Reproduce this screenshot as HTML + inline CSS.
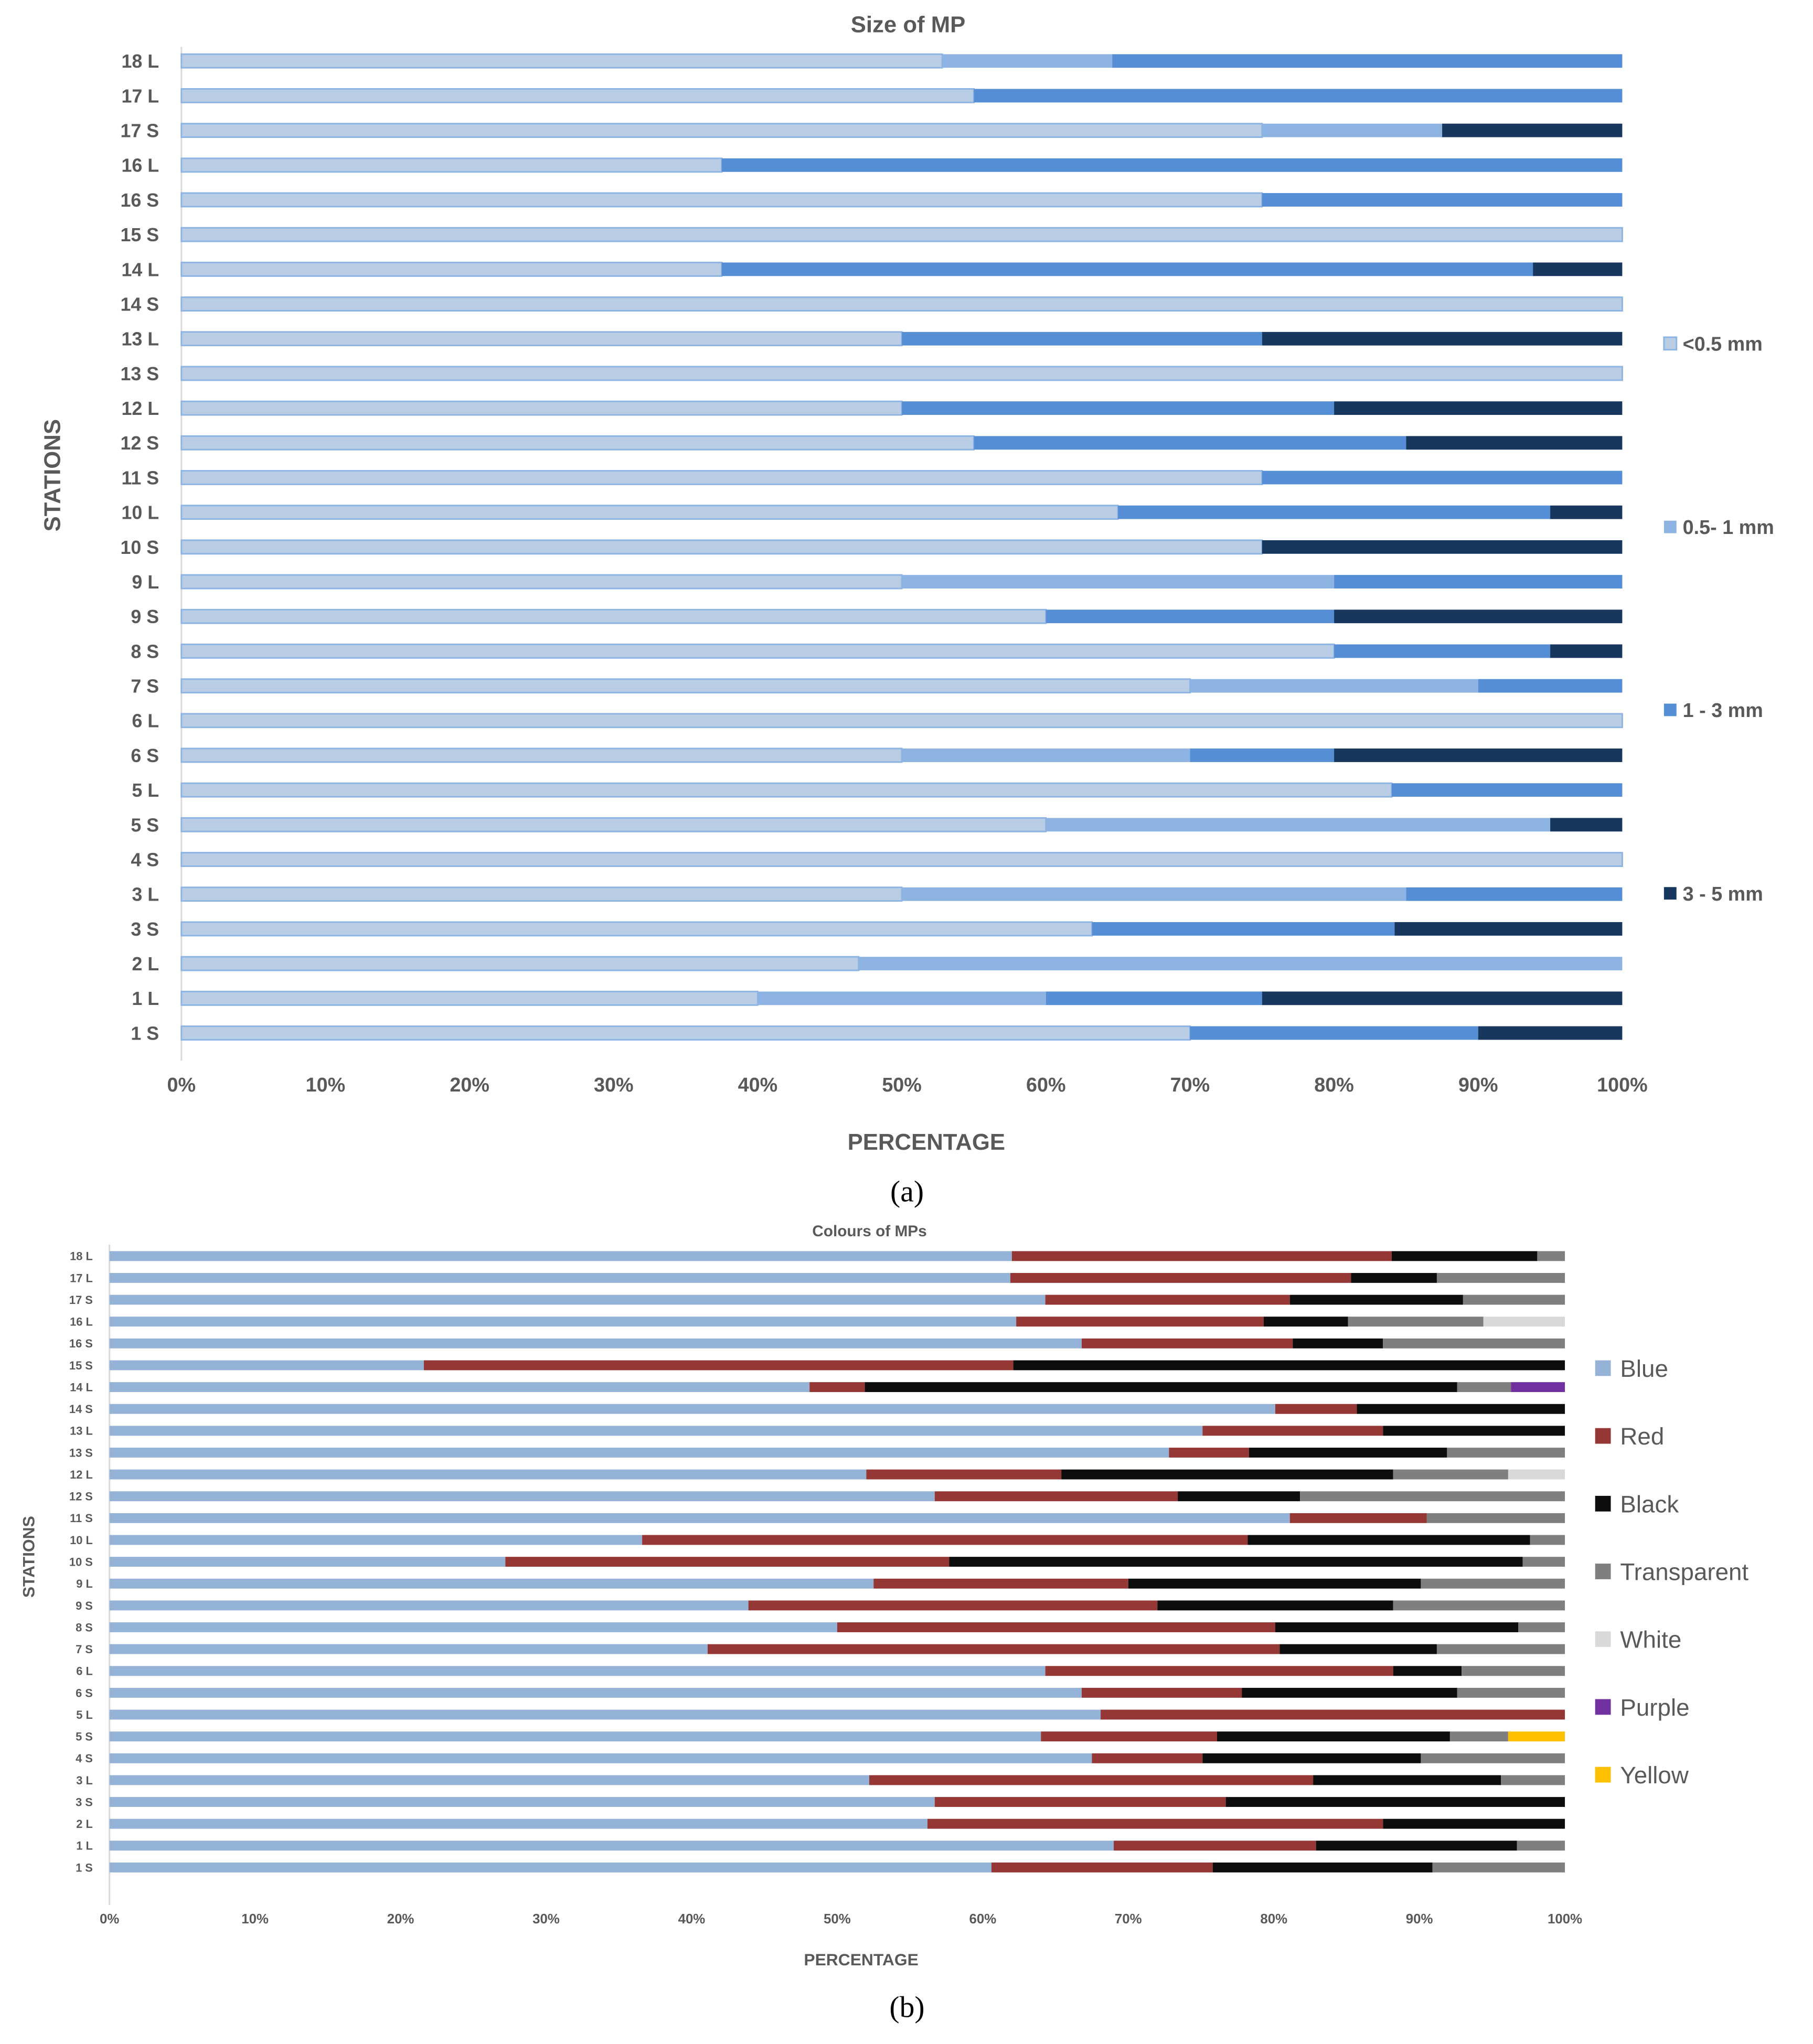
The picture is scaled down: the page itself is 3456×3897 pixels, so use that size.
<!DOCTYPE html>
<html><head><meta charset="utf-8"><style>
html,body{margin:0;padding:0;background:#fff}
svg{display:block;font-family:"Liberation Sans Narrow","Liberation Sans",sans-serif}
</style></head><body>
<svg width="3456" height="3897" viewBox="0 0 3456 3897" xmlns="http://www.w3.org/2000/svg"><g id="fig" transform="scale(0.9937)"></g></svg>
<script>
// ---------- Chart (a) data: Size of MP (top to bottom) ----------
const sizeStations = ["18 L","17 L","17 S","16 L","16 S","15 S","14 L","14 S","13 L","13 S","12 L","12 S","11 S","10 L","10 S","9 L","9 S","8 S","7 S","6 L","6 S","5 L","5 S","4 S","3 L","3 S","2 L","1 L","1 S"];
const sizeLt05 = [52.8,55,75,37.5,75,100,37.5,100,50,100,50,55,75,65,75,50,60,80,70,100,50,84,60,100,50,63.2,47,40,70];
const size05to1 = [11.8,0,12.5,0,0,0,0,0,0,0,0,0,0,0,0,30,0,0,20,0,20,0,35,0,35,0,53,20,0];
const size1to3 = [35.4,45,0,62.5,25,0,56.3,0,25,0,30,30,25,30,0,20,20,15,10,0,10,16,0,0,15,21,0,15,20];
const size3to5 = [0,0,12.5,0,0,0,6.2,0,25,0,20,15,0,5,25,0,20,5,0,0,20,0,5,0,0,15.8,0,25,10];
const sizeLegend = ["<0.5 mm","0.5- 1 mm","1 - 3 mm","3 - 5 mm"];
const xTicks = ["0%","10%","20%","30%","40%","50%","60%","70%","80%","90%","100%"];

// ---------- Chart (b) data: Colours of MPs ----------
const colStations = sizeStations.slice();
const colBlue = [62.0,61.9,64.3,62.3,66.8,21.6,48.1,80.1,75.1,72.8,52.0,56.7,81.1,36.6,27.2,52.5,43.9,50.0,41.1,64.3,66.8,68.1,64.0,67.5,52.2,56.7,56.2,69.0,60.6];
const colRed = [26.1,23.4,16.8,17.0,14.5,40.5,3.8,5.6,12.4,5.5,13.4,16.7,9.4,41.6,30.5,17.5,28.1,30.1,39.3,23.9,11.0,31.9,12.1,7.6,30.5,20.0,31.3,13.9,15.2];
const colBlack = [10.0,5.9,11.9,5.8,6.2,37.9,40.7,14.3,12.5,13.6,22.8,8.4,0,19.4,39.4,20.1,16.2,16.7,10.8,4.7,14.8,0,16.0,15.0,12.9,23.3,12.5,13.8,15.1];
const colTransparent = [1.9,8.8,7.0,9.3,12.5,0,3.7,0,0,8.1,7.9,18.2,9.5,2.4,2.9,9.9,11.8,3.2,8.8,7.1,7.4,0,4.0,9.9,4.4,0,0,3.3,9.1];
const colWhite = [0,0,0,5.6,0,0,0,0,0,0,3.9,0,0,0,0,0,0,0,0,0,0,0,0,0,0,0,0,0,0];
const colPurple = [0,0,0,0,0,0,3.7,0,0,0,0,0,0,0,0,0,0,0,0,0,0,0,0,0,0,0,0,0,0];
const colYellow = [0,0,0,0,0,0,0,0,0,0,0,0,0,0,0,0,0,0,0,0,0,0,3.9,0,0,0,0,0,0];
const colLegend = ["Blue","Red","Black","Transparent","White","Purple","Yellow"];

const NS="http://www.w3.org/2000/svg";
const svg=document.getElementById('fig');
function mk(tag,attrs,parent,txt){const e=document.createElementNS(NS,tag);for(const k in attrs)e.setAttribute(k,attrs[k]);if(txt!==undefined)e.textContent=txt;(parent||svg).appendChild(e);return e;}

function drawChart(cfg){
  const g=mk('g',{});
  
  
  const xs=v=>cfg.x0+(cfg.x1-cfg.x0)*v/100;
  const ys=i=>cfg.yTop+i*(cfg.yBot-cfg.yTop)/(cfg.cats.length-1);
  const t=mk('text',{x:cfg.titleX,y:cfg.titleY,'text-anchor':'middle','font-size':cfg.titleSize,'font-weight':'bold',fill:'#595959'},g,cfg.title);
  
  
  const ax=mk('line',{x1:cfg.x0,x2:cfg.x0,y1:cfg.axTop,y2:cfg.axBot,stroke:'#d9d9d9','stroke-width':3},g);
  
  
  cfg.cats.forEach((c,i)=>{
    const y=ys(i);
    const lb=mk('text',{x:cfg.labelX,y:y+cfg.labelSize*0.36,'text-anchor':'end','font-size':cfg.labelSize,'font-weight':'bold',fill:'#595959'},g,c);
    
    
    let acc=0;
    cfg.series.forEach((s,k)=>{
      const v=s[i];
      if(v>0){
        const r=mk('rect',{x:xs(acc),y:y-cfg.barH/2,width:xs(acc+v)-xs(acc),height:cfg.barH,fill:cfg.colors[k]},g);
        if(cfg.strokes&&cfg.strokes[k]){r.setAttribute('stroke',cfg.strokes[k]);r.setAttribute('stroke-width',3);}
        
        
      }
      acc+=v;
    });
  });
  xTicks.forEach((tk,j)=>{
    const tt=mk('text',{x:xs(j*10),y:cfg.tickY,'text-anchor':'middle','font-size':cfg.tickSize,'font-weight':'bold',fill:'#595959'},g,tk);
    
    
  });
  const xt=mk('text',{x:cfg.xTitleX,y:cfg.xTitleY,'text-anchor':'middle','font-size':cfg.axTitleSize,'font-weight':'bold',fill:'#595959'},g,'PERCENTAGE');
  
  
  const yt=mk('text',{x:0,y:0,'text-anchor':'middle','font-size':cfg.axTitleSize,'font-weight':'bold',fill:'#595959',transform:`translate(${cfg.yTitleX},${cfg.yTitleY}) rotate(-90)`},g,'STATIONS');
  
  
  cfg.legend.forEach((lg,k)=>{
    const ly=cfg.legY[k];
    const sq=mk('rect',{x:cfg.legX,y:ly-cfg.legSq/2,width:cfg.legSq,height:cfg.legSq,fill:cfg.colors[k]},g);
    if(cfg.strokes&&cfg.strokes[k]){sq.setAttribute('stroke',cfg.strokes[k]);sq.setAttribute('stroke-width',3);}
    
    
    const lt=mk('text',{x:cfg.legTX,y:ly+cfg.legSize*0.36,'font-size':cfg.legSize,'font-weight':cfg.legWeight,fill:'#595959'},g,lg);
    
    
  });
  const cap=mk('text',{x:cfg.capX,y:cfg.capY,'text-anchor':'middle','font-size':58,fill:'#000','font-family':'"Liberation Serif",serif'},g,cfg.cap);
  
  
}

drawChart({name:'size-chart',title:'Size of MP',titleX:1742,titleY:62,titleSize:44,
  cats:sizeStations,series:[sizeLt05,size05to1,size1to3,size3to5],
  colors:['#b9cde5','#8db3e2','#558ed5','#17375e'],strokes:['#8eb4e3',null,null,null],
  x0:348,x1:3112,yTop:117,yBot:1982,barH:26,axTop:90,axBot:2035,
  labelX:305,labelSize:36,tickY:2094,tickSize:38,axTitleSize:44,
  xTitleX:1777,xTitleY:2206,yTitleX:115,yTitleY:912,
  legend:sizeLegend,legX:3192,legTX:3228,legSq:24,legSize:38,legWeight:'bold',legY:[659,1011,1362,1714],
  cap:'(a)',capX:1740,capY:2305});

drawChart({name:'colour-chart',title:'Colours of MPs',titleX:1668,titleY:2372,titleSize:30,
  cats:colStations,series:[colBlue,colRed,colBlack,colTransparent,colWhite,colPurple,colYellow],
  colors:['#95b3d7','#953735','#0d0d0d','#7f7f7f','#d9d9d9','#7030a0','#ffc000'],strokes:null,
  x0:210,x1:3002,yTop:2410,yBot:3583,barH:19,axTop:2388,axBot:3655,
  labelX:178,labelSize:22,tickY:3690,tickSize:26,axTitleSize:32,
  xTitleX:1652,xTitleY:3771,yTitleX:66,yTitleY:2987,
  legend:colLegend,legX:3060,legTX:3108,legSq:30,legSize:46,legWeight:'normal',legY:[2625,2755,2885,3015,3145,3275,3405],
  cap:'(b)',capX:1740,capY:3870});
</script>
</body></html>
